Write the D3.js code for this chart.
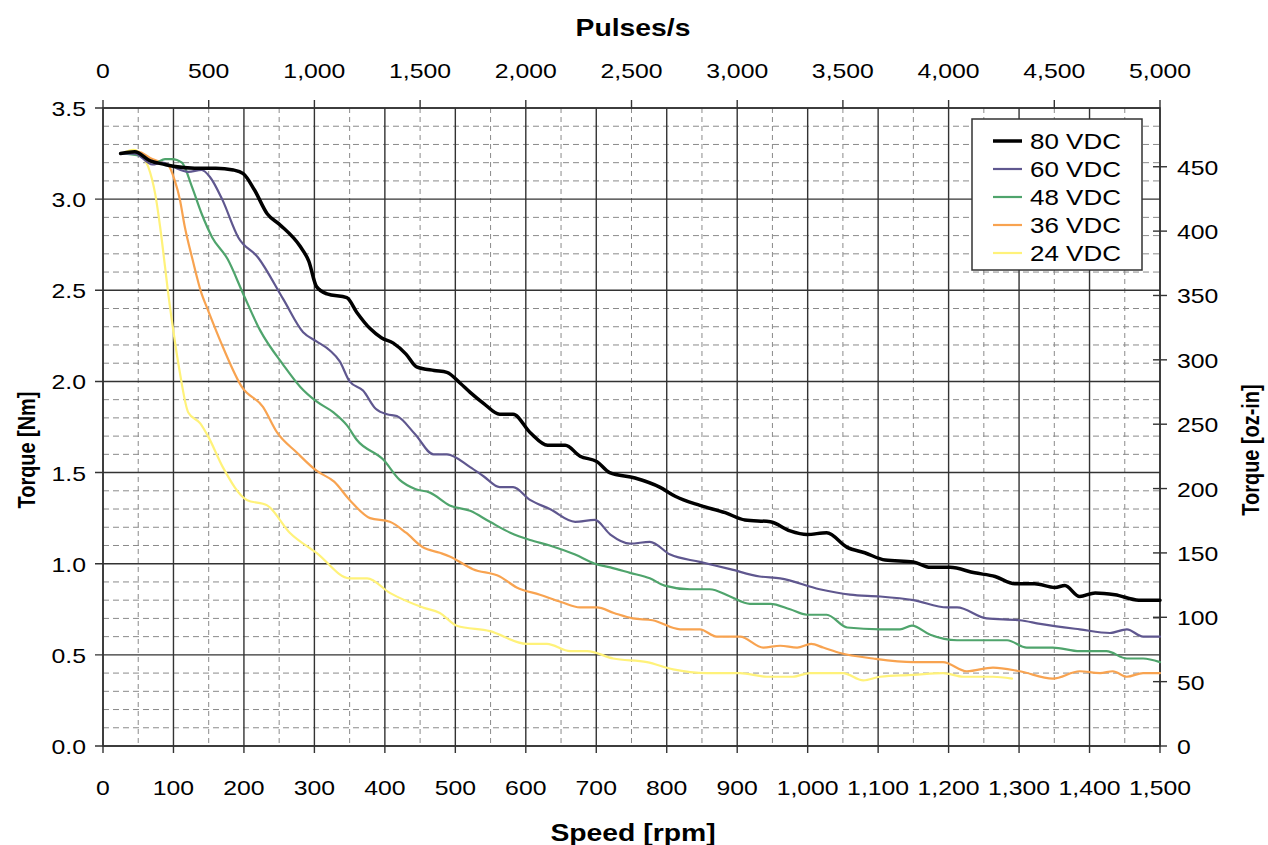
<!DOCTYPE html>
<html>
<head>
<meta charset="utf-8">
<script src="https://cdn.jsdelivr.net/npm/d3@7"></script>
<style>
  body { margin: 0; background: #fff; }
  svg { display: block; font-family: "Liberation Sans", Arial, sans-serif; }
</style>
</head>
<body>
<div id="graphicContainer"></div>
<script>
// series: [rpm, Nm] pairs
var v80 = [[25,3.25],[45,3.26],[67,3.21],[88,3.19],[100,3.18],[130,3.17],[160,3.17],[185,3.16],[199,3.14],[215,3.05],[233,2.92],[251,2.86],[280,2.74],[292,2.66],[303,2.52],[318,2.48],[346,2.46],[360,2.38],[379,2.29],[395,2.24],[412,2.21],[430,2.15],[445,2.08],[470,2.06],[488,2.05],[507,1.99],[521,1.94],[540,1.88],[563,1.82],[582,1.82],[606,1.72],[631,1.65],[656,1.65],[677,1.59],[701,1.56],[719,1.50],[755,1.47],[790,1.42],[812,1.37],[847,1.32],[883,1.28],[911,1.24],[947,1.23],[975,1.18],[999,1.16],[1027,1.17],[1056,1.09],[1081,1.06],[1110,1.02],[1150,1.01],[1174,0.98],[1202,0.98],[1237,0.95],[1266,0.93],[1294,0.89],[1322,0.89],[1351,0.87],[1365,0.88],[1386,0.82],[1408,0.84],[1436,0.83],[1470,0.80],[1500,0.80]]
var v60 = [[25,3.25],[45,3.25],[70,3.19],[84,3.20],[98,3.18],[121,3.15],[140,3.16],[152,3.12],[169,3.00],[192,2.79],[220,2.68],[256,2.45],[284,2.27],[303,2.22],[322,2.17],[336,2.11],[350,2.00],[369,1.95],[387,1.85],[403,1.82],[417,1.81],[443,1.71],[469,1.60],[488,1.60],[521,1.53],[540,1.48],[563,1.42],[582,1.42],[606,1.35],[634,1.30],[670,1.23],[698,1.24],[720,1.16],[748,1.11],[776,1.12],[805,1.05],[847,1.01],[890,0.97],[932,0.93],[961,0.92],[1017,0.86],[1060,0.83],[1103,0.82],[1150,0.80],[1198,0.76],[1212,0.76],[1254,0.70],[1301,0.69],[1330,0.67],[1386,0.64],[1429,0.62],[1453,0.64],[1476,0.60],[1500,0.60]]
var v48 = [[27,3.25],[50,3.24],[74,3.20],[88,3.22],[98,3.22],[112,3.20],[126,3.07],[140,2.92],[155,2.79],[177,2.67],[199,2.48],[223,2.28],[256,2.09],[280,1.97],[303,1.89],[327,1.83],[346,1.76],[360,1.68],[398,1.57],[421,1.46],[443,1.41],[464,1.39],[492,1.32],[521,1.29],[549,1.23],[578,1.17],[606,1.13],[634,1.10],[670,1.05],[698,1.00],[720,0.98],[748,0.95],[776,0.92],[797,0.88],[833,0.86],[861,0.86],[890,0.82],[918,0.78],[947,0.78],[975,0.75],[999,0.72],[1027,0.72],[1056,0.65],[1103,0.64],[1131,0.64],[1148,0.66],[1174,0.61],[1212,0.58],[1283,0.58],[1311,0.54],[1348,0.54],[1386,0.52],[1424,0.52],[1453,0.48],[1476,0.48],[1500,0.46]]
var v36 = [[27,3.25],[50,3.26],[70,3.22],[84,3.20],[92,3.19],[102,3.10],[109,3.00],[116,2.85],[127,2.67],[140,2.48],[147,2.41],[170,2.19],[197,1.97],[227,1.86],[247,1.72],[275,1.61],[303,1.51],[328,1.45],[350,1.35],[379,1.25],[407,1.23],[430,1.17],[454,1.09],[478,1.06],[492,1.04],[525,0.97],[563,0.93],[587,0.87],[620,0.83],[650,0.79],[677,0.76],[701,0.76],[725,0.73],[752,0.70],[780,0.69],[819,0.64],[847,0.64],[871,0.60],[904,0.60],[937,0.54],[961,0.55],[985,0.54],[1005,0.56],[1022,0.54],[1046,0.51],[1093,0.48],[1150,0.46],[1192,0.46],[1226,0.41],[1263,0.43],[1301,0.41],[1348,0.37],[1386,0.41],[1415,0.40],[1433,0.41],[1453,0.38],[1476,0.40],[1500,0.40]]
var v24 = [[27,3.25],[43,3.27],[55,3.24],[64,3.18],[74,3.03],[81,2.85],[88,2.63],[92,2.50],[99,2.30],[109,2.05],[121,1.83],[138,1.77],[149,1.70],[170,1.53],[204,1.35],[233,1.32],[265,1.17],[303,1.06],[350,0.92],[375,0.92],[407,0.84],[454,0.76],[478,0.73],[502,0.66],[549,0.63],[601,0.56],[630,0.56],[663,0.52],[687,0.52],[724,0.48],[772,0.46],[809,0.42],[857,0.40],[904,0.40],[942,0.38],[979,0.38],[1003,0.40],[1050,0.40],[1079,0.36],[1103,0.38],[1150,0.39],[1192,0.40],[1221,0.38],[1263,0.38],[1290,0.37]]

var seriesNames = ["80 VDC", "60 VDC", "48 VDC", "36 VDC", "24 VDC"]
var seriesColors = ["#000000", "#5f578f", "#4fa46c", "#f8a350", "#fff27a"]
var seriesWidths = [3.5, 2.2, 2.2, 2.2, 2.2]
var seriesData = [v80, v60, v48, v36, v24]

var rpmTicks = d3.range(0, 1501, 100)
var pulseTicks = d3.range(0, 5001, 500)
var nmTicks = d3.range(0, 3.51, 0.5)
var ozTicks = d3.range(0, 451, 50)

var NM_TO_OZIN = 141.612
var STRETCH = 1.18

var width = 1268
var height = 845
var m = { left: 103, right: 1160, top: 108, bottom: 746 }

var svg = d3.select("#graphicContainer")
  .append("svg")
  .attr("width", width)
  .attr("height", height)

var x = d3.scaleLinear().domain([0, 1500]).range([m.left, m.right])
var xTop = d3.scaleLinear().domain([0, 5000]).range([m.left, m.right])
var y = d3.scaleLinear().domain([0, 3.5]).range([m.bottom, m.top])
var yRight = d3.scaleLinear().domain([0, 3.5 * NM_TO_OZIN]).range([m.bottom, m.top])

// the reference text is drawn a little wide, so stretch it along the baseline
function stretch(sel, k) {
  k = k || STRETCH
  sel.each(function () {
    var w = this.getComputedTextLength()
    d3.select(this).attr("textLength", w * k).attr("lengthAdjust", "spacingAndGlyphs")
  })
}

// grid
var grid = svg.append("g")
grid.selectAll(".vminor")
  .data(d3.range(50, 1500, 100))
  .join("line")
  .attr("x1", d => x(d)).attr("x2", d => x(d))
  .attr("y1", m.top).attr("y2", m.bottom)
  .attr("stroke", "#8a8a8a").attr("stroke-width", 1).attr("stroke-dasharray", "5,4")

grid.selectAll(".hminor")
  .data(d3.range(0.1, 3.5, 0.1).filter(d => Math.abs(d * 2 - Math.round(d * 2)) > 0.01))
  .join("line")
  .attr("x1", m.left).attr("x2", m.right)
  .attr("y1", d => y(d)).attr("y2", d => y(d))
  .attr("stroke", "#8a8a8a").attr("stroke-width", 1).attr("stroke-dasharray", "6,4")

grid.selectAll(".vmajor")
  .data(rpmTicks)
  .join("line")
  .attr("x1", d => x(d)).attr("x2", d => x(d))
  .attr("y1", m.top).attr("y2", m.bottom + 7)
  .attr("stroke", "#333").attr("stroke-width", 1.4)

grid.selectAll(".hmajor")
  .data(nmTicks)
  .join("line")
  .attr("x1", m.left - 8).attr("x2", m.right)
  .attr("y1", d => y(d)).attr("y2", d => y(d))
  .attr("stroke", "#333").attr("stroke-width", 1.4)

// top ticks (pulses/s)
grid.selectAll(".ttick")
  .data(pulseTicks)
  .join("line")
  .attr("x1", d => xTop(d)).attr("x2", d => xTop(d))
  .attr("y1", m.top - 8).attr("y2", m.top)
  .attr("stroke", "#333").attr("stroke-width", 1.4)

// right ticks (oz-in)
grid.selectAll(".rtick")
  .data(ozTicks)
  .join("line")
  .attr("x1", m.right - 7).attr("x2", m.right + 7)
  .attr("y1", d => yRight(d)).attr("y2", d => yRight(d))
  .attr("stroke", "#333").attr("stroke-width", 1.4)

// frame
svg.append("rect")
  .attr("x", m.left).attr("y", m.top)
  .attr("width", m.right - m.left).attr("height", m.bottom - m.top)
  .attr("fill", "none").attr("stroke", "#333").attr("stroke-width", 1.6)

// curves
var line = d3.line()
  .x(d => x(d[0]))
  .y(d => y(d[1]))
  .curve(d3.curveMonotoneX)

var order = [4, 3, 2, 1, 0]
order.forEach(function (i) {
  svg.append("path")
    .datum(seriesData[i])
    .attr("d", line)
    .attr("fill", "none")
    .attr("stroke", seriesColors[i])
    .attr("stroke-width", seriesWidths[i])
    .attr("stroke-linejoin", "round")
    .attr("stroke-linecap", "round")
})

// tick labels
svg.append("g").selectAll("text")
  .data(rpmTicks)
  .join("text")
  .attr("x", d => x(d)).attr("y", 795)
  .attr("text-anchor", "middle")
  .style("font-size", "21px")
  .text(d => d3.format(",")(d))
  .call(stretch)

svg.append("g").selectAll("text")
  .data(pulseTicks)
  .join("text")
  .attr("x", d => xTop(d)).attr("y", 78)
  .attr("text-anchor", "middle")
  .style("font-size", "21px")
  .text(d => d3.format(",")(d))
  .call(stretch)

svg.append("g").selectAll("text")
  .data(nmTicks)
  .join("text")
  .attr("x", 86).attr("y", d => y(d) + 8)
  .attr("text-anchor", "end")
  .style("font-size", "21px")
  .text(d => d3.format(".1f")(d))
  .call(stretch)

svg.append("g").selectAll("text")
  .data(ozTicks)
  .join("text")
  .attr("x", 1177).attr("y", d => yRight(d) + 8)
  .attr("text-anchor", "start")
  .style("font-size", "21px")
  .text(d => d)
  .call(stretch)

// axis titles
svg.append("text")
  .attr("x", 633).attr("y", 36)
  .attr("text-anchor", "middle")
  .style("font-size", "24px").style("font-weight", "bold")
  .text("Pulses/s")
  .call(stretch)

svg.append("text")
  .attr("x", 633).attr("y", 841)
  .attr("text-anchor", "middle")
  .style("font-size", "24px").style("font-weight", "bold")
  .text("Speed [rpm]")
  .call(stretch)

// rotated titles: wide glyphs, same length
svg.append("text")
  .attr("transform", "translate(35,450) rotate(-90)")
  .attr("text-anchor", "middle")
  .style("font-size", "23.5px").style("font-weight", "bold")
  .text("Torque [Nm]")
  .call(stretch, 1 / STRETCH)

svg.append("text")
  .attr("transform", "translate(1259,450) rotate(-90)")
  .attr("text-anchor", "middle")
  .style("font-size", "23.5px").style("font-weight", "bold")
  .text("Torque [oz-in]")
  .call(stretch, 1 / STRETCH)

// legend
var legend = svg.append("g").attr("transform", "translate(972,119)")
legend.append("rect")
  .attr("width", 170).attr("height", 151)
  .attr("fill", "#fff").attr("stroke", "#333").attr("stroke-width", 1.5)

var item = legend.selectAll("g.item")
  .data(seriesNames)
  .join("g")
  .attr("transform", (d, i) => "translate(0," + (22 + i * 28) + ")")

item.append("line")
  .attr("x1", 21).attr("x2", 50)
  .attr("stroke", (d, i) => seriesColors[i])
  .attr("stroke-width", (d, i) => i === 0 ? 3.5 : 2.2)

item.append("text")
  .attr("x", 58).attr("y", 8)
  .style("font-size", "22px")
  .text(d => d)
  .call(stretch)
</script>
</body>
</html>
